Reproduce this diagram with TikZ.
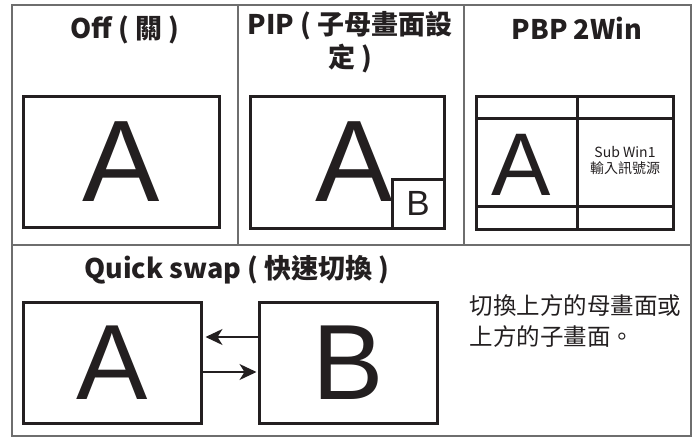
\documentclass[tikz,border=0pt]{standalone}
\usepackage{fontspec}
\setmainfont{Liberation Sans}
\newfontfamily\cjkfont{Noto Sans CJK TC}
\usepackage{xcolor}
\usepackage{tikz}
\usetikzlibrary{arrows.meta, positioning}

\definecolor{inkgray}{RGB}{35,31,32}
\definecolor{framegray}{RGB}{110,110,110}

\tikzset{
  frame/.style={draw=framegray, line width=1.3pt},
  screen/.style={draw=inkgray, line width=3pt, inner sep=0pt},
  bigletter/.style={text=inkgray, font=\fontsize{116}{116}\selectfont},
  paneltitle/.style={text=inkgray, align=center, font=\cjkfont\bfseries\fontsize{27}{33}\selectfont},
  note/.style={text=inkgray, align=left, font=\cjkfont\fontsize{23.5}{31}\selectfont},
  swaparrow/.style={-{Stealth[length=17pt, width=16pt, inset=5pt]}, inkgray, line width=1.5pt},
}

\begin{document}
\begin{tikzpicture}[x=1pt, y=-1pt]
    \useasboundingbox (0,0) rectangle (699,437);

    % Draw the table
    \draw[frame] (12,5) rectangle (691,436);
    \draw[frame] (238,5) -- (238,245);
    \draw[frame] (464,5) -- (464,245);
    \draw[frame] (12,245) -- (691,245);

    % Titles
    \node[paneltitle] (offtitle) at (125,30) {Off ( 關 )};
    \node[paneltitle] (piptitle) at (350,42) {PIP ( 子母畫面設\\定 )};
    \node[paneltitle] (pbptitle) at (577,28) {PBP 2Win};
    \node[paneltitle] (swaptitle) at (237,270) {Quick swap ( 快速切換 )};

    % Off
    \node[screen, minimum width=196, minimum height=131] (offscreen) at (121,161.5) {};
    \node[bigletter] (offa) at (offscreen) {A};

    % PIP
    \node[screen, minimum width=194, minimum height=132] (pipscreen) at (347,162) {};
    \node[bigletter] (pipa) at (354,162) {A};
    \node[screen, minimum width=52, minimum height=49, anchor=south east,
          text=inkgray, font=\fontsize{35}{35}\selectfont] (pipb) at (pipscreen.south east) {B};

    % PBP 2Win
    \node[screen, minimum width=197, minimum height=133] (pbpscreen) at (574.5,162.5) {};
    \draw[inkgray, line width=3pt] (577,96) -- (577,229);
    \draw[inkgray, line width=3pt] (476,118) -- (673,118);
    \draw[inkgray, line width=3pt] (476,206) -- (673,206);
    \node[bigletter, font=\fontsize{89}{89}\selectfont] (pbpa) at (521,165) {A};
    \node[text=inkgray, align=center, font=\cjkfont\fontsize{14}{16}\selectfont] (subwin) at (625,160) {Sub Win1\\輸入訊號源};

    % Quick swap
    \node[screen, minimum width=178, minimum height=121] (swapa) at (112,362.5) {};
    \node[screen, minimum width=178, minimum height=121] (swapb) at (348,362.5) {};
    \node[bigletter, font=\fontsize{107}{107}\selectfont] at (swapa) {A};
    \node[bigletter, font=\fontsize{107}{107}\selectfont] at (swapb) {B};
    \draw[swaparrow] ([yshift=25.5pt]swapb.west) -- ([yshift=25.5pt, xshift=3pt]swapa.east);
    \draw[swaparrow] ([yshift=-9.5pt]swapa.east) -- ([yshift=-9.5pt, xshift=-1pt]swapb.west);

    \node[note, anchor=north west] (swapnote) at (466,291) {切換上方的母畫面或\\上方的子畫面。};

\end{tikzpicture}
\end{document}
